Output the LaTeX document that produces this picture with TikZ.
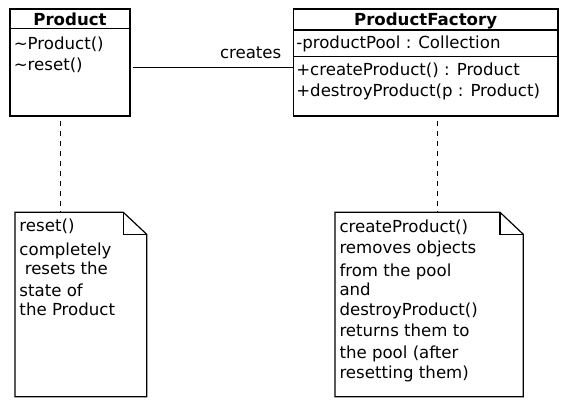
\documentclass[tikz,border=0pt]{standalone}
\usepackage{fontspec}
\setmainfont{DejaVu Sans}
\usetikzlibrary{calc}
\tikzset{
  box/.style={draw, line width=1.2pt, inner sep=0pt, outer sep=0pt, anchor=north west},
  region/.style={inner sep=0pt, outer sep=0pt, anchor=north west},
  txt/.style={inner sep=0pt, outer sep=0pt, anchor=base west, font=\fontsize{16.6}{20}\selectfont},
  head/.style={inner sep=0pt, outer sep=0pt, anchor=base, font=\fontsize{16.6}{20}\selectfont\bfseries},
  divider/.style={line width=1.2pt},
  noteline/.style={line width=1.2pt, line join=miter},
  assoc/.style={line width=1.2pt},
  dep/.style={line width=1.2pt, dash pattern=on 5pt off 5pt, dash phase=5pt},
}
\begin{document}
\begin{tikzpicture}[x=1pt,y=-1pt]
\useasboundingbox (0,0) rectangle (563,402);

% Product class
\node[box, minimum width=120pt, minimum height=107pt] (product) at (10,9) {};
\draw[divider] (10,28.5) -- (130,28.5);
\node[head] (ptitle) at (70,25) {Product};
\node[txt] (pop1) at (13.8,49.3) {\textasciitilde Product()};
\node[txt] (pop2) at (13.8,70) {\textasciitilde reset()};

% ProductFactory class
\node[box, minimum width=264.7pt, minimum height=107pt] (factory) at (293.3,9) {};
\draw[divider] (293.3,30) -- (558,30);
\draw[divider] (293.3,56.7) -- (558,56.7);
\node[head] (ftitle) at (425.6,25) {ProductFactory};
\node[txt] (fat1) at (296.3,48.3) {-productPool : Collection};
\node[txt] (fop1) at (296.3,75) {+createProduct() : Product};
\node[txt] (fop2) at (296.3,96) {+destroyProduct(p : Product)};

% association
\coordinate (c1) at ($(product.north east)+(2.7,58.5)$);
\draw[assoc] (c1) -- (c1 -| factory.west);
\node[txt] (lbl) at (220,58.3) {creates};

% note 1
\node[region, minimum width=131.7pt, minimum height=184.4pt] (note1) at (15,212.3) {};
\draw[noteline] (note1.north west) -- ($(note1.north east)+(-23.4,0)$) -- ($(note1.north east)+(0,22)$) -- (note1.south east) -- (note1.south west) -- cycle;
\draw[noteline] ($(note1.north east)+(-23.4,0)$) -- ($(note1.north east)+(-23.4,22)$) -- ($(note1.north east)+(0,22)$);
\node[txt] (n1a) at (19.5,231.7) {reset()};
\node[txt] (n1b) at (19.5,255) {completely};
\node[txt] (n1c) at (19.5,274) {\ resets the};
\node[txt] (n1d) at (19.5,296.7) {state of};
\node[txt] (n1e) at (19.5,315) {the Product};

% note 2
\node[region, minimum width=188.3pt, minimum height=184.4pt] (note2) at (335,212.3) {};
\draw[noteline] (note2.north west) -- ($(note2.north east)+(-23.3,0)$) -- ($(note2.north east)+(0,22)$) -- (note2.south east) -- (note2.south west) -- cycle;
\draw[noteline] ($(note2.north east)+(-23.3,0)$) -- ($(note2.north east)+(-23.3,22)$) -- ($(note2.north east)+(0,22)$);
\node[txt] (n2a) at (339.5,232.3) {createProduct()};
\node[txt] (n2b) at (339.5,253.3) {removes objects};
\node[txt] (n2c) at (339.5,276) {from the pool};
\node[txt] (n2d) at (339.5,295) {and};
\node[txt] (n2e) at (339.5,315.7) {destroyProduct()};
\node[txt] (n2f) at (339.5,336.7) {returns them to};
\node[txt] (n2g) at (339.5,358.3) {the pool (after};
\node[txt] (n2h) at (339.5,378.3) {resetting them)};

% anchors of notes
\draw[dep] ($(product.south west)+(50.5,0)$) -- ($(note1.north west)+(45.5,0)$);
\draw[dep] ($(factory.south west)+(144,0)$) -- ($(note2.north west)+(102.3,0)$);
\end{tikzpicture}
\end{document}
